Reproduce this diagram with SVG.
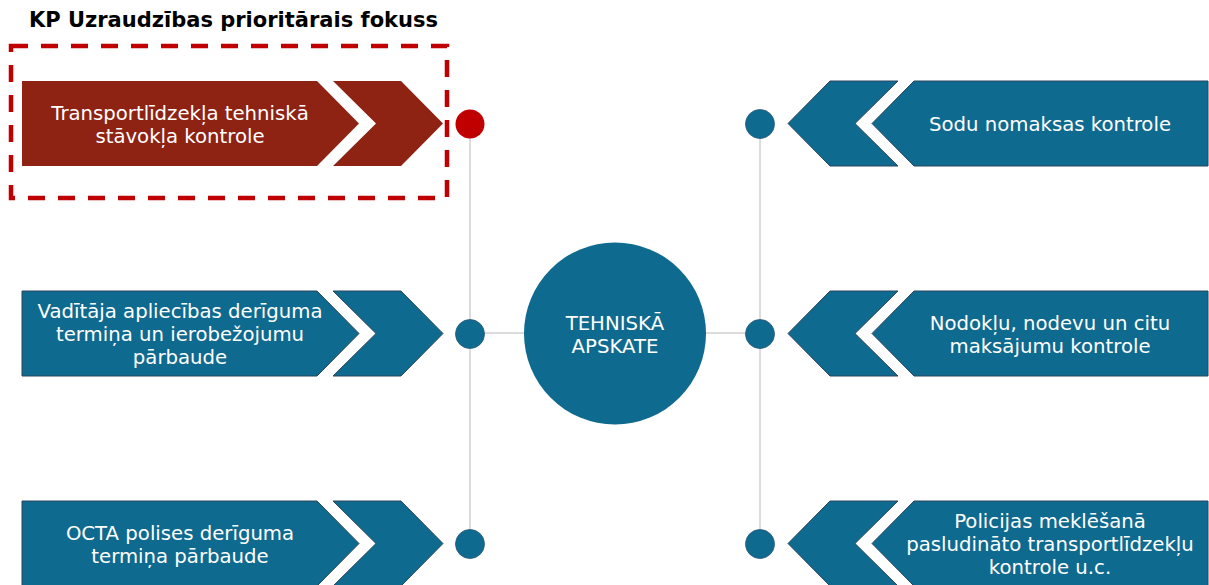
<svg xmlns="http://www.w3.org/2000/svg" width="1209" height="585" viewBox="0 0 1209 585">
<style>
.blue{fill:#0F6A8F;stroke:#2A4560;stroke-width:1}
.red{fill:#8E2314}
.dot{fill:#0F6A8F;stroke:#2A5878;stroke-width:0.8}
.t{font-family:"DejaVu Sans",Verdana,sans-serif;font-size:19.7px;fill:#FFFFFF;text-anchor:middle}
.title{font-family:"DejaVu Sans",Verdana,sans-serif;font-size:21px;font-weight:bold;fill:#000000}
.line{stroke:#D0D0D0;stroke-width:1.5;fill:none}
</style>
<rect width="1209" height="585" fill="#FFFFFF"/>
<text class="title" x="29" y="27">KP Uzraudzības prioritārais fokuss</text>
<g id="connectors">
<line class="line" x1="470" y1="124" x2="470" y2="544"/>
<line class="line" x1="760" y1="124" x2="760" y2="544"/>
<line class="line" x1="470" y1="333" x2="760" y2="333"/>
</g>
<g id="focus-box">
<rect x="11" y="46" width="436" height="152" fill="none" stroke="#C00000" stroke-width="4.5" stroke-dasharray="17 13"/>
</g>
<g id="node-l1">
<polygon class="red" points="22,81 317,81 359,123.5 317,166 22,166"/>
<polygon class="red" points="333,81 401,81 443,123.5 401,166 333,166 376,123.5"/>
<text class="t"><tspan x="180" y="120">Transportlīdzekļa tehniskā</tspan><tspan x="180" y="143">stāvokļa kontrole</tspan></text>
<circle cx="470" cy="124" r="14.5" fill="#C00000"/>
</g>
<g id="node-l2">
<polygon class="blue" points="22,291 317,291 359,333.5 317,376 22,376"/>
<polygon class="blue" points="333,291 401,291 443,333.5 401,376 333,376 376,333.5"/>
<text class="t"><tspan x="180" y="318">Vadītāja apliecības derīguma</tspan><tspan x="180" y="341">termiņa un ierobežojumu</tspan><tspan x="180" y="364">pārbaude</tspan></text>
<circle class="dot" cx="470" cy="334" r="14.5"/>
</g>
<g id="node-l3">
<polygon class="blue" points="22,501 317,501 359,543.5 317,586 22,586"/>
<polygon class="blue" points="333,501 401,501 443,543.5 401,586 333,586 376,543.5"/>
<text class="t"><tspan x="180" y="540">OCTA polises derīguma</tspan><tspan x="180" y="563">termiņa pārbaude</tspan></text>
<circle class="dot" cx="470" cy="544" r="14.5"/>
</g>
<g id="node-center">
<circle cx="615" cy="333.5" r="91" fill="#0F6A8F"/>
<text class="t" font-size="21.5"><tspan x="615" y="330">TEHNISKĀ</tspan><tspan x="615" y="353">APSKATE</tspan></text>
</g>
<g id="node-r1">
<polygon class="blue" points="1208,81 914,81 872,123.5 914,166 1208,166"/>
<polygon class="blue" points="898,81 830,81 788,123.5 830,166 898,166 855,123.5"/>
<text class="t"><tspan x="1050" y="131">Sodu nomaksas kontrole</tspan></text>
<circle class="dot" cx="760" cy="124" r="14.5"/>
</g>
<g id="node-r2">
<polygon class="blue" points="1208,291 914,291 872,333.5 914,376 1208,376"/>
<polygon class="blue" points="898,291 830,291 788,333.5 830,376 898,376 855,333.5"/>
<text class="t"><tspan x="1050" y="330">Nodokļu, nodevu un citu</tspan><tspan x="1050" y="353">maksājumu kontrole</tspan></text>
<circle class="dot" cx="760" cy="334" r="14.5"/>
</g>
<g id="node-r3">
<polygon class="blue" points="1208,501 914,501 872,543.5 914,586 1208,586"/>
<polygon class="blue" points="898,501 830,501 788,543.5 830,586 898,586 855,543.5"/>
<text class="t"><tspan x="1050" y="528">Policijas meklēšanā</tspan><tspan x="1050" y="551">pasludināto transportlīdzekļu</tspan><tspan x="1050" y="574">kontrole u.c.</tspan></text>
<circle class="dot" cx="760" cy="544" r="14.5"/>
</g>
</svg>
